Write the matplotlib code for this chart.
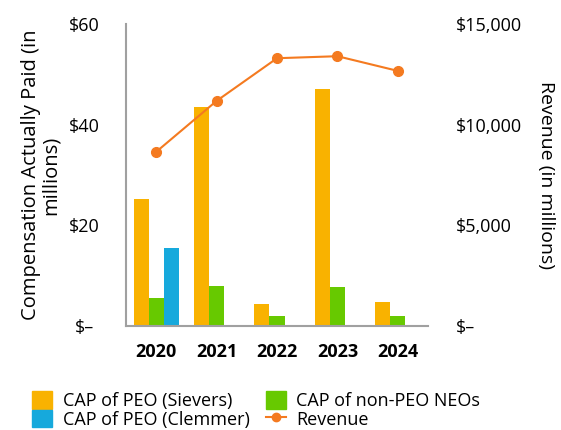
import matplotlib
matplotlib.use("Agg")
from matplotlib import pyplot as plt
from matplotlib.lines import Line2D
from matplotlib.patches import Patch
import numpy as np

years = ["2020", "2021", "2022", "2023", "2024"]
cap_sievers = [25.2, 43.5, 4.4, 47.0, 4.8]
cap_non_peo = [5.6, 8.0, 2.0, 7.8, 2.0]
cap_clemmer = [15.5, 0, 0, 0, 0]
revenue = [8650, 11180, 13300, 13400, 12670]

left_ticks = ["$–", "$20", "$40", "$60"]
right_ticks = ["$–", "$5,000", "$10,000", "$15,000"]

c_orange = "#F9B200"
c_green = "#67C900"
c_blue = "#16A9DC"
c_rev = "#F47A20"

plt.rcParams['font.family'] = ['Open Sans', 'DejaVu Sans']

fig = plt.figure(figsize=(5.61, 4.30), dpi=100)
ax = fig.add_axes([0.2246, 0.2419, 0.5384, 0.7023])

x = np.arange(len(years))
w = 0.25
ax.bar(x - w, cap_sievers, w, color=c_orange)
ax.bar(x, cap_non_peo, w, color=c_green)
# clemmer only in 2020
ax.bar(x[:1] + w, cap_clemmer[:1], w, color=c_blue)

ax.set_xlim(-0.5, 4.5)
ax.set_ylim(0, 60)
ax.set_yticks([0, 20, 40, 60])
ax.set_yticklabels(left_ticks, fontsize=13)
ax.set_xticks(x)
ax.set_xticklabels(years, fontsize=13, fontweight='bold')
ax.tick_params(length=0, pad=12)
ax.tick_params(axis='y', pad=30)
for lab in ax.get_yticklabels():
    lab.set_horizontalalignment('center')
for s in ['top', 'right']:
    ax.spines[s].set_visible(False)
ax.spines['left'].set_color('#A0A0A0')
ax.spines['bottom'].set_color('#A0A0A0')
ax.spines['left'].set_linewidth(1.5)
ax.spines['bottom'].set_linewidth(1.5)
ax.set_ylabel("Compensation Actually Paid (in\nmillions)", fontsize=14.5, labelpad=6,
              linespacing=0.95)

ax2 = ax.twinx()
ax2.plot(x, revenue, color=c_rev, marker='o', markersize=7, linewidth=1.5)
ax2.set_ylim(0, 15000)
ax2.set_yticks([0, 5000, 10000, 15000])
ax2.set_yticklabels(right_ticks, fontsize=13)
ax2.tick_params(length=0, pad=20)
for s in ['top', 'right', 'left', 'bottom']:
    ax2.spines[s].set_visible(False)
ax2.set_ylabel("Revenue (in millions)", fontsize=14, rotation=270, labelpad=24)

handles = [
    Patch(color=c_orange),
    Patch(color=c_blue),
    Patch(color=c_green),
    Line2D([], [], color=c_rev, marker='o', markersize=6, linewidth=1.5),
]
labels = ["CAP of PEO (Sievers)", "CAP of PEO (Clemmer)", "CAP of non-PEO NEOs", "Revenue"]
fig.legend(handles, labels, ncol=2, loc='lower left', bbox_to_anchor=(0.028, -0.035),
           frameon=False, fontsize=13, handlelength=1.1, handleheight=1.1,
           handletextpad=0.6, columnspacing=0.9, labelspacing=0.0)

fig.savefig("out.png", dpi=100)
